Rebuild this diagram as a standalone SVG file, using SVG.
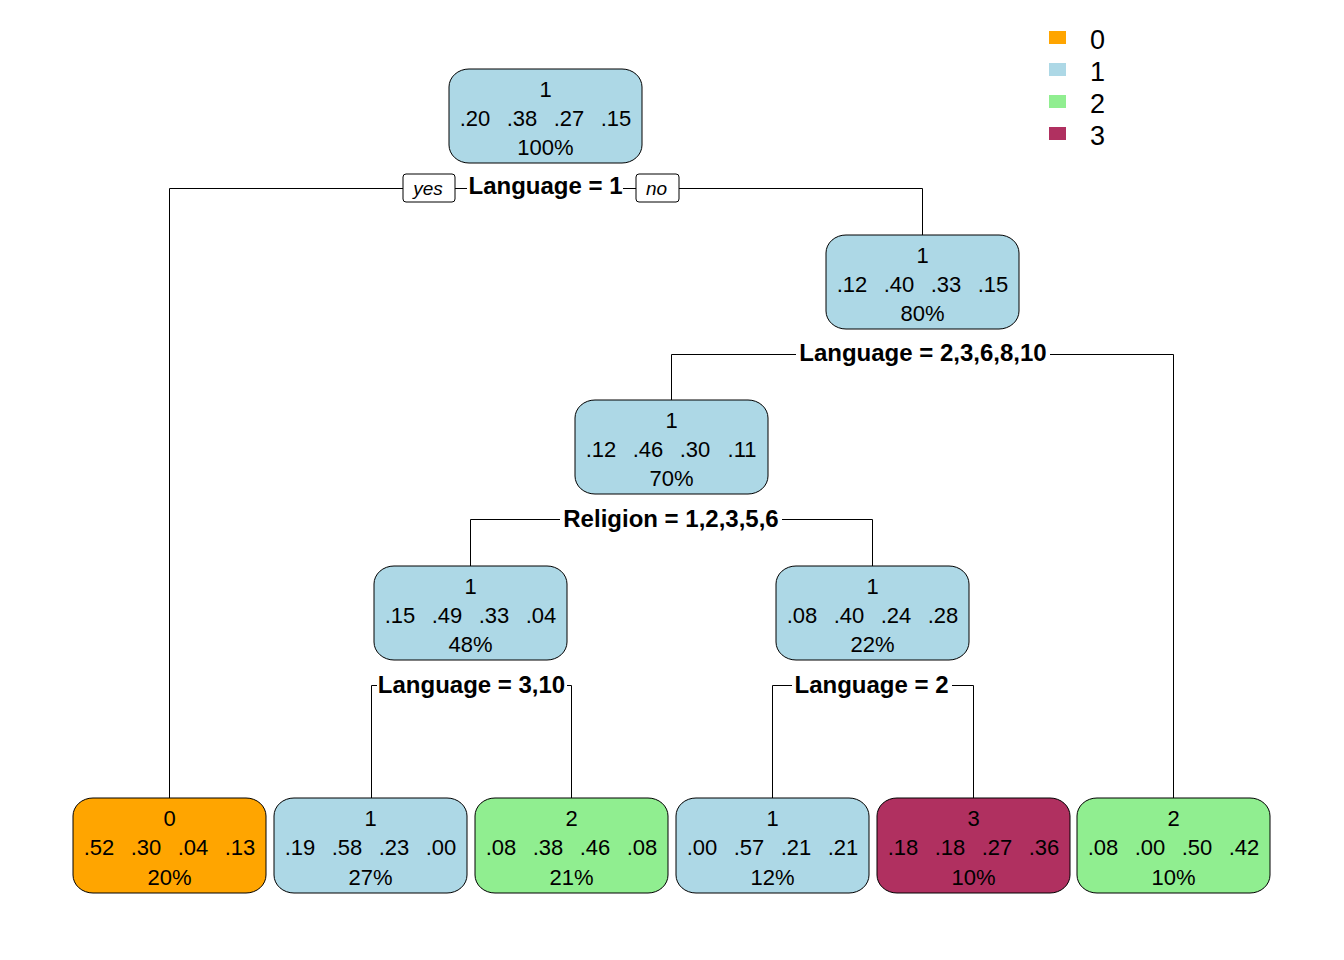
<svg xmlns="http://www.w3.org/2000/svg" width="1344" height="960" viewBox="0 0 1344 960">
<style>
.box{stroke:#000;stroke-width:1}
.b{fill:#ADD8E6}.o{fill:#FFA500}.g{fill:#90EE90}.m{fill:#B03060}
text{font-family:"Liberation Sans",Arial,sans-serif;fill:#000}
.t{font-size:22px;text-anchor:middle}
.s{font-size:24px;font-weight:bold;text-anchor:middle}
.yn{font-size:19px;font-style:italic;text-anchor:middle}
.lg{font-size:27px}
.c{stroke:#000;stroke-width:1;fill:none}
</style>
<rect width="1344" height="960" fill="#fff"/>
<g id="connectors">
<path class="c" d="M403,188.5H169.5V798 M455,188.5H467 M623,188.5H636 M679,188.5H922.5V235"/>
<path class="c" d="M796,354.5H671.5V400 M1050,354.5H1173.5V798"/>
<path class="c" d="M560,519.5H470.5V566 M782,519.5H872.5V566"/>
<path class="c" d="M377,685.5H371.5V798 M567,685.5H571.5V798"/>
<path class="c" d="M792,685.5H772.5V798 M952,685.5H973.5V798"/>
</g>
<g id="labels">
<rect x="403" y="174" width="52" height="28" rx="3" fill="#fff" stroke="#000"/>
<text class="yn" x="428" y="195">yes</text>
<rect x="636" y="174" width="43" height="28" rx="3" fill="#fff" stroke="#000"/>
<text class="yn" x="656.5" y="195">no</text>
<text class="s" x="545.5" y="194">Language = 1</text>
<text class="s" x="923" y="361">Language = 2,3,6,8,10</text>
<text class="s" x="671" y="526.5">Religion = 1,2,3,5,6</text>
<text class="s" x="471.5" y="692.5">Language = 3,10</text>
<text class="s" x="871.5" y="692.5">Language = 2</text>
</g>
<g id="node1" transform="translate(545.5,69)"><rect class="box b" x="-96.5" y="0" width="193" height="94" rx="20" ry="18"/><text class="t" x="0" y="28">1</text><text class="t" y="57"><tspan x="-70.5">.20</tspan><tspan x="-23.5">.38</tspan><tspan x="23.5">.27</tspan><tspan x="70.5">.15</tspan></text><text class="t" x="0" y="86">100%</text></g>
<g id="node2" transform="translate(922.5,235)"><rect class="box b" x="-96.5" y="0" width="193" height="94" rx="20" ry="18"/><text class="t" x="0" y="28">1</text><text class="t" y="57"><tspan x="-70.5">.12</tspan><tspan x="-23.5">.40</tspan><tspan x="23.5">.33</tspan><tspan x="70.5">.15</tspan></text><text class="t" x="0" y="86">80%</text></g>
<g id="node3" transform="translate(671.5,400)"><rect class="box b" x="-96.5" y="0" width="193" height="94" rx="20" ry="18"/><text class="t" x="0" y="28">1</text><text class="t" y="57"><tspan x="-70.5">.12</tspan><tspan x="-23.5">.46</tspan><tspan x="23.5">.30</tspan><tspan x="70.5">.11</tspan></text><text class="t" x="0" y="86">70%</text></g>
<g id="node4" transform="translate(470.5,566)"><rect class="box b" x="-96.5" y="0" width="193" height="94" rx="20" ry="18"/><text class="t" x="0" y="28">1</text><text class="t" y="57"><tspan x="-70.5">.15</tspan><tspan x="-23.5">.49</tspan><tspan x="23.5">.33</tspan><tspan x="70.5">.04</tspan></text><text class="t" x="0" y="86">48%</text></g>
<g id="node5" transform="translate(872.5,566)"><rect class="box b" x="-96.5" y="0" width="193" height="94" rx="20" ry="18"/><text class="t" x="0" y="28">1</text><text class="t" y="57"><tspan x="-70.5">.08</tspan><tspan x="-23.5">.40</tspan><tspan x="23.5">.24</tspan><tspan x="70.5">.28</tspan></text><text class="t" x="0" y="86">22%</text></g>
<g id="leaf1" transform="translate(169.5,798)"><rect class="box o" x="-96.5" y="0" width="193" height="95" rx="20" ry="18"/><text class="t" x="0" y="28">0</text><text class="t" y="57"><tspan x="-70.5">.52</tspan><tspan x="-23.5">.30</tspan><tspan x="23.5">.04</tspan><tspan x="70.5">.13</tspan></text><text class="t" x="0" y="87">20%</text></g>
<g id="leaf2" transform="translate(370.5,798)"><rect class="box b" x="-96.5" y="0" width="193" height="95" rx="20" ry="18"/><text class="t" x="0" y="28">1</text><text class="t" y="57"><tspan x="-70.5">.19</tspan><tspan x="-23.5">.58</tspan><tspan x="23.5">.23</tspan><tspan x="70.5">.00</tspan></text><text class="t" x="0" y="87">27%</text></g>
<g id="leaf3" transform="translate(571.5,798)"><rect class="box g" x="-96.5" y="0" width="193" height="95" rx="20" ry="18"/><text class="t" x="0" y="28">2</text><text class="t" y="57"><tspan x="-70.5">.08</tspan><tspan x="-23.5">.38</tspan><tspan x="23.5">.46</tspan><tspan x="70.5">.08</tspan></text><text class="t" x="0" y="87">21%</text></g>
<g id="leaf4" transform="translate(772.5,798)"><rect class="box b" x="-96.5" y="0" width="193" height="95" rx="20" ry="18"/><text class="t" x="0" y="28">1</text><text class="t" y="57"><tspan x="-70.5">.00</tspan><tspan x="-23.5">.57</tspan><tspan x="23.5">.21</tspan><tspan x="70.5">.21</tspan></text><text class="t" x="0" y="87">12%</text></g>
<g id="leaf5" transform="translate(973.5,798)"><rect class="box m" x="-96.5" y="0" width="193" height="95" rx="20" ry="18"/><text class="t" x="0" y="28">3</text><text class="t" y="57"><tspan x="-70.5">.18</tspan><tspan x="-23.5">.18</tspan><tspan x="23.5">.27</tspan><tspan x="70.5">.36</tspan></text><text class="t" x="0" y="87">10%</text></g>
<g id="leaf6" transform="translate(1173.5,798)"><rect class="box g" x="-96.5" y="0" width="193" height="95" rx="20" ry="18"/><text class="t" x="0" y="28">2</text><text class="t" y="57"><tspan x="-70.5">.08</tspan><tspan x="-23.5">.00</tspan><tspan x="23.5">.50</tspan><tspan x="70.5">.42</tspan></text><text class="t" x="0" y="87">10%</text></g>
<g id="legend">
<rect class="o" x="1049" y="31" width="17" height="13"/>
<rect class="b" x="1049" y="63" width="17" height="13"/>
<rect class="g" x="1049" y="95" width="17" height="13"/>
<rect class="m" x="1049" y="127" width="17" height="13"/>
<text class="lg" x="1090" y="49">0</text>
<text class="lg" x="1090" y="81">1</text>
<text class="lg" x="1090" y="113">2</text>
<text class="lg" x="1090" y="145">3</text>
</g>
</svg>
